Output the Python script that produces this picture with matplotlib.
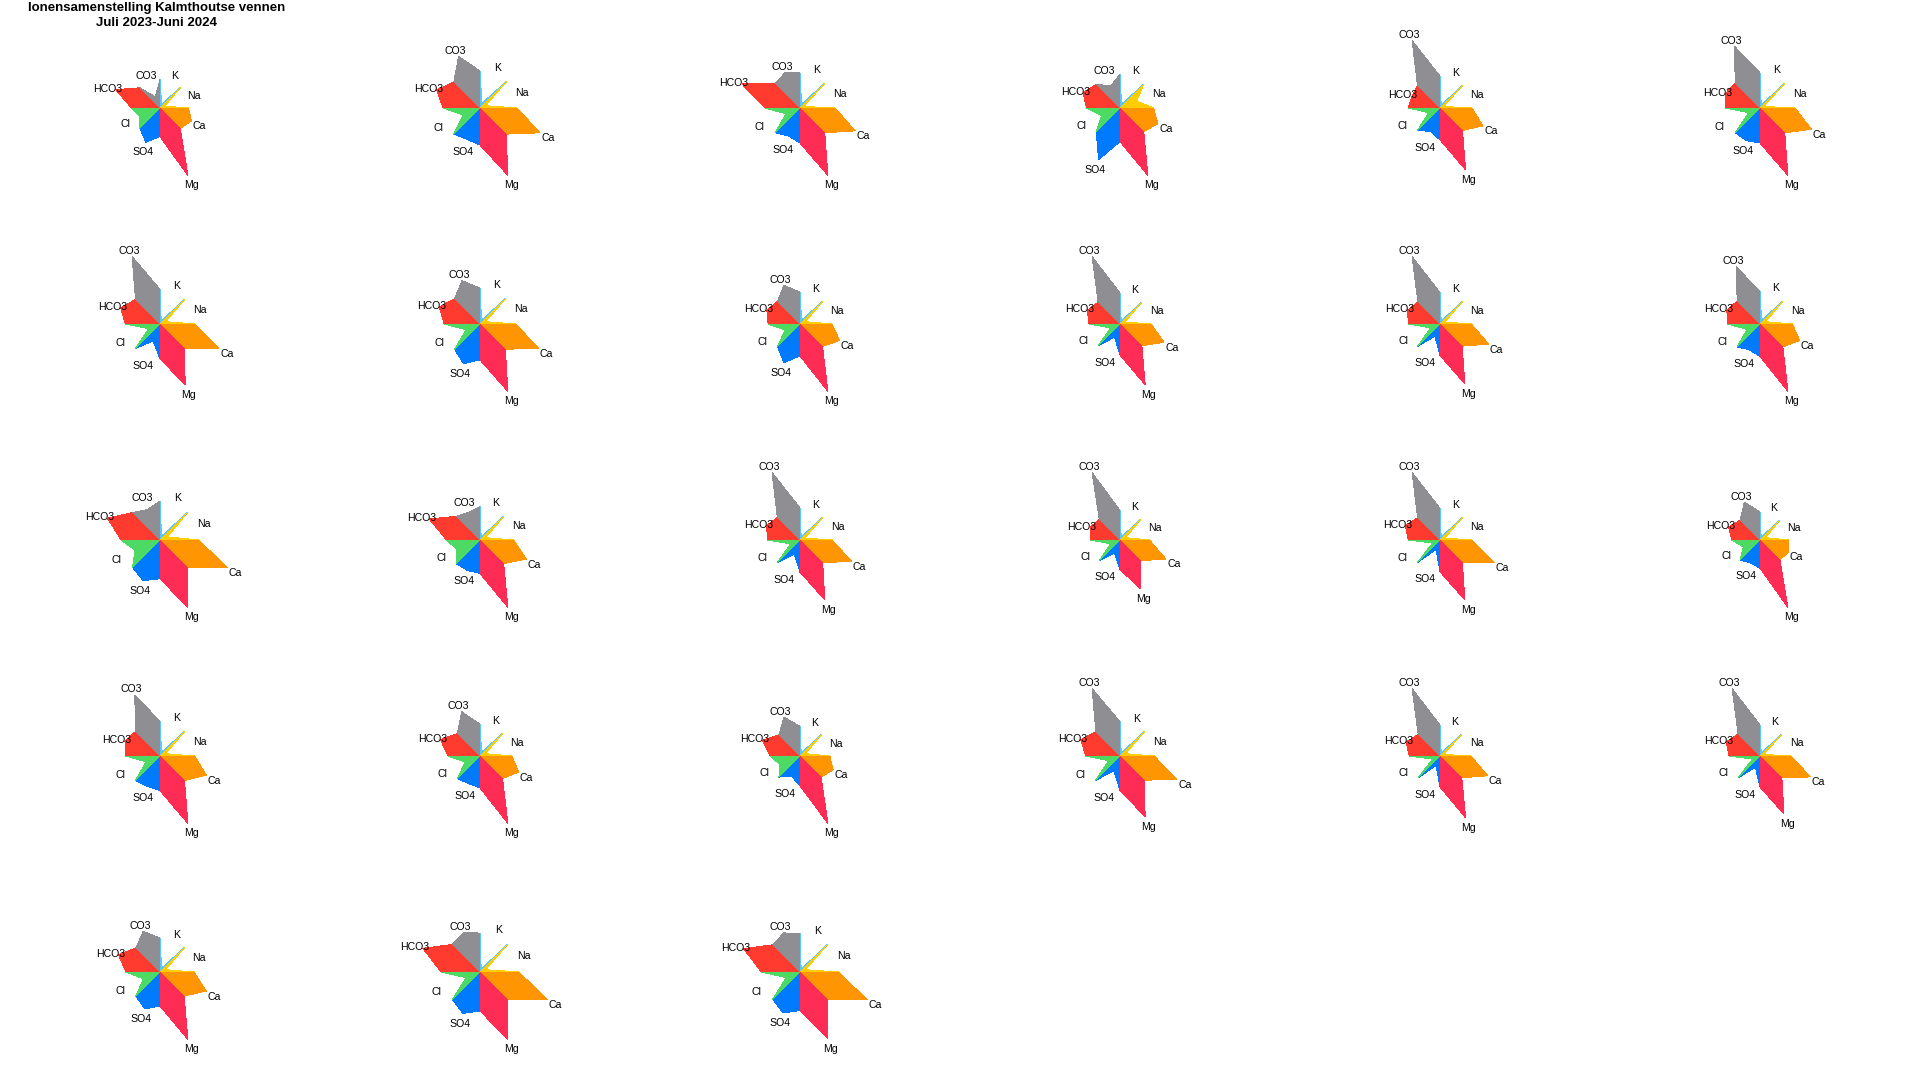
import numpy as np
import matplotlib
matplotlib.use("Agg")
import matplotlib.pyplot as plt
from matplotlib.patches import Polygon

ions = ["K", "Na", "Ca", "Mg", "SO4", "Cl", "HCO3", "CO3"]
colors = ["#5AC8FA", "#FFCC00", "#FF9500", "#FF2D55",
          "#007AFF", "#4CD964", "#FF3B30", "#8E8E93"]

# relative ion shares (meq-based) for the 27 samples, July 2023 - June 2024
K    = [4, 5, 4, 4, 3, 3, 3, 4, 4, 3, 3, 4, 4, 3, 3, 3, 3, 3, 4, 4, 3, 3, 3, 3, 4, 3, 3]
Na   = [5, 6, 4, 18, 4, 4, 6, 6, 6, 5, 5, 6, 8, 6, 5, 6, 5, 6, 6, 6, 6, 6, 4, 4, 6, 6, 6]
Ca   = [34, 65, 59, 41, 46, 55, 63, 63, 43, 47, 52, 43, 73, 50, 55, 49, 58, 31, 50, 42, 36, 61, 51, 54, 50, 73, 74]
Mg   = [73, 73, 72, 73, 66, 72, 65, 73, 73, 65, 64, 73, 73, 73, 64, 52, 64, 73, 73, 73, 73, 65, 66, 62, 73, 73, 73]
SO4  = [37, 34, 30, 56, 25, 35, 18, 43, 42, 14, 13, 28, 44, 33, 15, 14, 10, 25, 33, 30, 22, 16, 10, 12, 40, 45, 45]
Cl   = [22, 18, 15, 20, 12, 12, 12, 15, 16, 10, 10, 14, 27, 25, 10, 10, 8, 18, 15, 16, 22, 12, 8, 8, 18, 15, 15]
HCO3 = [48, 47, 62, 40, 30, 37, 42, 44, 36, 35, 35, 36, 57, 55, 36, 32, 37, 34, 38, 43, 41, 42, 36, 36, 45, 62, 62]
CO3  = [12, 56, 38, 24, 72, 66, 72, 47, 42, 72, 72, 62, 33, 30, 72, 72, 72, 41, 66, 48, 42, 72, 72, 72, 44, 43, 43]

title1 = "Ionensamenstelling Kalmthoutse vennen"
title2 = "Juli 2023-Juni 2024"

sector_start = [90, 45, 0, -45, -90, -135, 180, 135]

W, H = 1920, 1080
ncol, nrow = 6, 5
cell_w, cell_h = W / ncol, H / nrow
S = np.sin(np.pi / 8)

fig = plt.figure(figsize=(W / 100, H / 100), dpi=100)
fig.patch.set_facecolor("white")

data = np.array([K, Na, Ca, Mg, SO4, Cl, HCO3, CO3], dtype=float)
n = data.shape[1]

for idx in range(n):
    row, col = divmod(idx, ncol)
    ax = fig.add_axes([col / ncol, 1 - (row + 1) / nrow, 1 / ncol, 1 / nrow])
    vals = data[:, idx]
    pct = 100 * vals / vals.sum()
    r = pct / 100 * np.pi / S          # Maucha: circle radius = 1
    rmax = r.max()
    L = rmax * (cell_h / 2) / 72.8
    ax.set_ylim(-L, L)
    ax.set_xlim(-L * cell_w / cell_h, L * cell_w / cell_h)
    ax.axis("off")
    for i in range(8):
        t0 = np.deg2rad(sector_start[i])
        t1 = t0 - np.pi / 4
        tm = t0 - np.pi / 8
        pts = [(0, 0), (np.cos(t0), np.sin(t0)),
               (r[i] * np.cos(tm), r[i] * np.sin(tm)),
               (np.cos(t1), np.sin(t1))]
        ax.add_patch(Polygon(pts, closed=True, facecolor=colors[i],
                             edgecolor="none", antialiased=False))
        lr = max(r[i], 1.0) + 0.118 * rmax
        ax.annotate(ions[i], xy=(lr * np.cos(tm), lr * np.sin(tm)),
                    xytext=(0, -1.6), textcoords="offset points",
                    ha="center", va="center", fontsize=7.6,
                    family="Liberation Sans", color="black")

fig.text(157 / W, 1 - 11 / H, title1, ha="center", va="baseline",
         fontsize=9.5, fontweight="bold", family="Liberation Sans")
fig.text(157 / W, 1 - 25.5 / H, title2, ha="center", va="baseline",
         fontsize=9.5, fontweight="bold", family="Liberation Sans")

fig.savefig("out.png", dpi=100, facecolor="white")
